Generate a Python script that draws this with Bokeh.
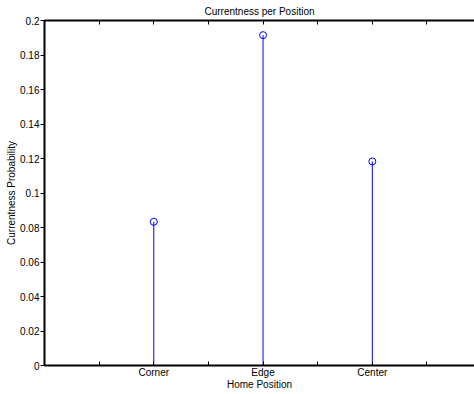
from bokeh.plotting import figure
from bokeh.models import Range1d, LinearAxis, FixedTicker, CustomJSTickFormatter, ColumnDataSource
from bokeh.embed import file_html
from bokeh.resources import INLINE

categories = ["Corner", "Edge", "Center"]
probabilities = [0.0833, 0.1915, 0.1183]
y_ticks = [0, 0.02, 0.04, 0.06, 0.08, 0.1, 0.12, 0.14, 0.16, 0.18, 0.2]

xs = [2 * (i + 1) for i in range(len(categories))]
src = ColumnDataSource(dict(x=xs, y0=[0] * len(xs), y=probabilities))

FONT = "Liberation Sans"
FS = "10px"

p = figure(width=474, height=394, output_backend="svg", toolbar_location=None,
           x_range=Range1d(0, 7.87), y_range=Range1d(0, 0.2),
           x_axis_location="below", y_axis_location="left",
           min_border_left=44, min_border_right=0, min_border_top=20, min_border_bottom=29)
p.grid.visible = False
p.outline_line_color = None
p.background_fill_color = "white"
p.border_fill_color = "white"

p.segment(x0="x", y0="y0", x1="x", y1="y", source=src, line_color="#0000ff", line_width=1)
p.scatter(x="x", y="y", source=src, marker="circle", size=7, fill_color=None,
          line_color="#0000ff", line_width=1)

# bottom axis
xa = p.xaxis[0]
xa.ticker = FixedTicker(ticks=xs, minor_ticks=[1, 3, 5, 7])
xa.major_label_overrides = {x: c for x, c in zip(xs, categories)}
xa.major_tick_in = 4
xa.major_tick_out = 0
xa.minor_tick_in = 4
xa.minor_tick_out = 0
xa.minor_tick_line_color = "black"
xa.axis_line_width = 2
xa.axis_line_color = "black"
xa.major_tick_line_color = "black"
xa.major_label_standoff = 1
xa.axis_label = "Home Position"
xa.axis_label_standoff = -2
xa.axis_label_text_font_style = "normal"
xa.axis_label_text_font = FONT
xa.axis_label_text_font_size = FS
xa.axis_label_text_color = "black"
xa.major_label_text_font = FONT
xa.major_label_text_font_size = FS
xa.major_label_text_color = "black"

# left axis
ya = p.yaxis[0]
ya.ticker = FixedTicker(ticks=y_ticks)
ya.formatter = CustomJSTickFormatter(code="return tick.toFixed(2).replace(/0+$/,'').replace(/\\.$/,'');")
ya.major_tick_in = 0
ya.major_tick_out = 4
ya.minor_tick_line_color = None
ya.axis_line_width = 2
ya.axis_line_color = "black"
ya.major_tick_line_color = "black"
ya.major_label_standoff = 1
ya.axis_label = "Currentness Probability"
ya.axis_label_standoff = 0
ya.axis_label_text_font_style = "normal"
ya.axis_label_text_font = FONT
ya.axis_label_text_font_size = FS
ya.axis_label_text_color = "black"
ya.major_label_text_font = FONT
ya.major_label_text_font_size = FS
ya.major_label_text_color = "black"

# top axis acting as box top + title
ta = LinearAxis(ticker=FixedTicker(ticks=[], minor_ticks=[1, 2, 3, 4, 5, 6, 7]))
ta.major_label_standoff = 0
ta.major_tick_in = 0
ta.major_tick_out = 0
ta.minor_tick_in = 4
ta.minor_tick_out = 0
ta.minor_tick_line_color = "black"
ta.axis_line_width = 2
ta.axis_line_color = "black"
ta.axis_label = "Currentness per Position"
ta.axis_label_standoff = 4
ta.axis_label_text_font_style = "normal"
ta.axis_label_text_font = FONT
ta.axis_label_text_font_size = FS
ta.axis_label_text_color = "black"
p.add_layout(ta, "above")

open("out.html", "w").write(file_html(p, INLINE))
